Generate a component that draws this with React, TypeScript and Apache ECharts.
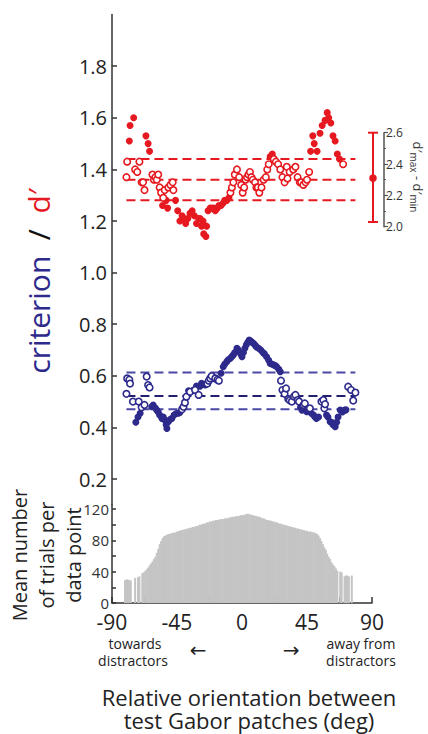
import React, { useEffect, useRef } from "react";
import * as echarts from "echarts";

// ---------- data ----------
// d' (red) : orientation (deg), value, filled (1) / open (0)
const dPrimeDeg = [-80, -79.5, -78, -77.5, -75, -74, -72.5, -71, -69.5, -68.5, -67.5, -66.5, -65, -64, -62, -61, -60, -59, -58, -57, -56, -55, -54.5, -53.5, -52.5, -51.5, -51, -49.5, -48, -47.5, -46, -44.5, -43, -41.5, -40, -39, -37.5, -36, -34.5, -33, -31.5, -30, -29, -28, -27, -26.5, -25, -24.5, -23.5, -22, -21, -19.5, -18.5, -17, -16, -14.5, -13, -12, -10.5, -9, -8, -7, -6, -5, -3.5, -2, -0.5, 0.5, 1.5, 2.5, 3.5, 4.5, 5.5, 6.5, 7.5, 9, 10, 11, 12, 13.5, 15, 16.5, 17.5, 18.5, 19.5, 21, 22, 23.5, 25, 26.5, 28, 29.5, 31, 31.5, 33, 35.5, 37, 38.5, 40, 41, 42.5, 44, 45, 46.5, 47.5, 49, 50, 52, 54, 55.5, 57.5, 59, 60, 61.5, 63, 64.5, 66, 67.5, 70];
const dPrimeVal = [1.37, 1.43, 1.51, 1.57, 1.60, 1.40, 1.39, 1.43, 1.35, 1.35, 1.32, 1.53, 1.50, 1.47, 1.38, 1.36, 1.37, 1.36, 1.38, 1.33, 1.31, 1.26, 1.29, 1.32, 1.28, 1.25, 1.33, 1.34, 1.35, 1.32, 1.28, 1.24, 1.20, 1.22, 1.21, 1.19, 1.21, 1.23, 1.24, 1.22, 1.19, 1.21, 1.21, 1.18, 1.20, 1.15, 1.14, 1.18, 1.24, 1.25, 1.25, 1.25, 1.24, 1.25, 1.26, 1.26, 1.27, 1.28, 1.28, 1.29, 1.31, 1.33, 1.35, 1.38, 1.40, 1.37, 1.34, 1.31, 1.33, 1.36, 1.37, 1.38, 1.39, 1.37, 1.36, 1.35, 1.33, 1.33, 1.31, 1.33, 1.36, 1.37, 1.40, 1.42, 1.45, 1.46, 1.44, 1.43, 1.42, 1.40, 1.37, 1.35, 1.41, 1.365, 1.39, 1.40, 1.41, 1.37, 1.35, 1.35, 1.34, 1.35, 1.36, 1.39, 1.47, 1.53, 1.50, 1.47, 1.54, 1.57, 1.59, 1.62, 1.60, 1.58, 1.53, 1.51, 1.46, 1.44, 1.42];
const dPrimeFilled = [0, 0, 1, 1, 1, 0, 0, 0, 0, 0, 0, 1, 1, 1, 0, 0, 0, 0, 0, 0, 0, 1, 0, 0, 1, 1, 0, 0, 0, 0, 1, 1, 1, 1, 1, 1, 1, 1, 1, 1, 1, 1, 1, 1, 1, 1, 1, 1, 1, 1, 1, 1, 1, 1, 1, 1, 1, 1, 1, 1, 0, 0, 0, 0, 0, 0, 0, 0, 0, 0, 0, 0, 0, 0, 0, 0, 0, 0, 0, 0, 0, 0, 0, 0, 1, 1, 0, 0, 0, 0, 0, 0, 0, 0, 0, 0, 0, 0, 0, 0, 0, 0, 0, 0, 1, 1, 1, 1, 1, 1, 1, 1, 1, 1, 1, 1, 1, 1, 0];

// criterion (blue)
const critDeg = [-80, -79.5, -78, -77.5, -75.5, -73.5, -72, -71.5, -70.5, -69.5, -67.5, -66, -65, -64, -62.5, -61.5, -60, -59, -58, -57, -55.5, -54.5, -53.5, -52.5, -52, -51, -50, -48.5, -47, -45.5, -44, -43, -41.5, -40.5, -39.5, -38.5, -37, -36, -35, -33.5, -32.5, -31.5, -30, -29, -28, -26.5, -25.5, -24, -23, -22, -21, -19.5, -18.5, -17, -16, -14.5, -13, -12, -10.5, -9.5, -8, -7, -6, -5, -3.5, -2.5, -1, 0, 1, 2, 3, 4, 5, 6, 7, 8, 9, 10, 11.5, 13, 14.5, 15.5, 17, 18.5, 19.5, 21, 22, 23, 24, 25.5, 26.5, 27, 28, 29.5, 30.5, 32, 33, 34.5, 36, 37, 38.5, 39.5, 40.5, 41.5, 42.5, 43.5, 44.8, 46, 47, 48, 49.5, 50.5, 51.5, 53, 55, 56.3, 57, 57.5, 58.5, 59.5, 61, 62, 63, 64.5, 65.5, 66.5, 68, 69.5, 71, 72, 73.5, 75.5, 77, 78.5];
const critVal = [0.53, 0.59, 0.585, 0.57, 0.50, 0.42, 0.44, 0.50, 0.455, 0.478, 0.487, 0.597, 0.564, 0.555, 0.48, 0.487, 0.475, 0.467, 0.46, 0.448, 0.435, 0.44, 0.429, 0.41, 0.396, 0.422, 0.43, 0.435, 0.448, 0.454, 0.455, 0.458, 0.47, 0.48, 0.496, 0.519, 0.542, 0.538, 0.54, 0.545, 0.545, 0.56, 0.526, 0.56, 0.571, 0.566, 0.564, 0.57, 0.581, 0.59, 0.599, 0.59, 0.59, 0.585, 0.581, 0.61, 0.635, 0.645, 0.655, 0.662, 0.668, 0.675, 0.681, 0.69, 0.707, 0.70, 0.685, 0.674, 0.69, 0.707, 0.72, 0.73, 0.739, 0.735, 0.73, 0.725, 0.719, 0.712, 0.707, 0.70, 0.69, 0.685, 0.674, 0.66, 0.648, 0.645, 0.642, 0.64, 0.635, 0.625, 0.616, 0.581, 0.545, 0.53, 0.551, 0.51, 0.505, 0.50, 0.52, 0.526, 0.506, 0.50, 0.478, 0.467, 0.487, 0.493, 0.461, 0.47, 0.474, 0.455, 0.448, 0.44, 0.435, 0.44, 0.50, 0.506, 0.474, 0.49, 0.448, 0.44, 0.422, 0.42, 0.41, 0.403, 0.42, 0.44, 0.467, 0.46, 0.467, 0.468, 0.558, 0.545, 0.504, 0.535];
const critFilled = [0, 0, 0, 0, 0, 1, 1, 0, 1, 0, 0, 0, 0, 0, 1, 1, 1, 1, 1, 1, 1, 1, 1, 1, 1, 1, 1, 1, 1, 1, 1, 1, 0, 0, 0, 0, 1, 0, 1, 1, 0, 1, 0, 1, 1, 1, 1, 0, 0, 0, 0, 1, 0, 0, 0, 1, 1, 1, 1, 1, 1, 1, 1, 1, 1, 1, 1, 1, 1, 1, 1, 1, 1, 1, 1, 1, 1, 1, 1, 1, 1, 1, 1, 1, 1, 1, 1, 1, 1, 1, 1, 0, 0, 0, 0, 0, 0, 0, 0, 0, 0, 0, 1, 1, 0, 0, 1, 1, 0, 1, 1, 1, 1, 1, 0, 0, 0, 0, 1, 1, 1, 1, 1, 1, 1, 1, 1, 1, 1, 1, 0, 0, 0, 0];

// reference (dashed) levels
const dPrimeLevels = [1.44, 1.36, 1.28];
const critLevels = [0.613, 0.522, 0.47];
const levelSpan = [-80, 78.5];

// d'max - d'min error bar: [x, low, mean, high]
const rangeBar = [[0.5, 2.03, 2.31, 2.6]];

// histogram: mean number of trials per data point, 1-deg bins
const histDeg = [-82, -81, -80, -79, -78, -77, -76, -75, -74, -73, -72, -71, -70, -69, -68, -67, -66, -65, -64, -63, -62, -61, -60, -59, -58, -57, -56, -55, -54, -53, -52, -51, -50, -49, -48, -47, -46, -45, -44, -43, -42, -41, -40, -39, -38, -37, -36, -35, -34, -33, -32, -31, -30, -29, -28, -27, -26, -25, -24, -23, -22, -21, -20, -19, -18, -17, -16, -15, -14, -13, -12, -11, -10, -9, -8, -7, -6, -5, -4, -3, -2, -1, 0, 1, 2, 3, 4, 5, 6, 7, 8, 9, 10, 11, 12, 13, 14, 15, 16, 17, 18, 19, 20, 21, 22, 23, 24, 25, 26, 27, 28, 29, 30, 31, 32, 33, 34, 35, 36, 37, 38, 39, 40, 41, 42, 43, 44, 45, 46, 47, 48, 49, 50, 51, 52, 53, 54, 55, 56, 57, 58, 59, 60, 61, 62, 63, 64, 65, 66, 67, 68, 69, 70, 71, 72, 73, 74, 75, 76, 77];
const histCount = [0, 29, 30, 30, 29, 29, 0, 0, 32, 0, 33, 34, 0, 38, 39, 41, 43, 45, 48, 50, 53, 56, 59, 64, 69, 75, 79, 83, 85, 86, 87, 88, 88, 89, 89, 90, 90, 91, 92, 92, 93, 93, 94, 94, 95, 95, 96, 96, 97, 97, 98, 98, 99, 100, 100, 101, 101, 102, 103, 103, 104, 104, 105, 105, 106, 106, 106, 107, 107, 107, 108, 108, 108, 109, 109, 110, 110, 110, 111, 111, 111, 112, 112, 112, 113, 113, 114, 113, 113, 112, 112, 111, 111, 110, 110, 109, 108, 108, 107, 106, 106, 105, 105, 104, 104, 103, 103, 102, 101, 101, 100, 100, 99, 99, 98, 98, 97, 97, 96, 96, 95, 95, 94, 94, 93, 93, 92, 92, 91, 91, 91, 90, 90, 89, 88, 86, 83, 79, 75, 71, 68, 63, 59, 56, 52, 49, 47, 44, 41, 0, 40, 39, 0, 34, 35, 35, 34, 0, 35];

const yTicksMain = [0.2, 0.4, 0.6, 0.8, 1.0, 1.2, 1.4, 1.6, 1.8];
const xTickLabels = [-90, -45, 0, 45, 90];
const histLabelTicks = [0, 40, 80, 120];
const histTicks = [0, 20, 40, 60, 80, 100, 120];

// ---------- style ----------
const RED = "#e5191f";
const BLUE = "#2d2a8c";
const BLUE_LIGHT = "#4b48a6";
const BLUE_DARK = "#221f6c";
const AXIS = "#333333";
const TXT = "#222222";
const FONT = "Open Sans";

function pts(deg: number[], val: number[], flag: number[], want: number) {
  const out: number[][] = [];
  deg.forEach((d, i) => {
    if (flag[i] === want) out.push([d, val[i]]);
  });
  return out;
}

function levelLine(v: number, color: string) {
  return {
    type: "line",
    xAxisIndex: 0,
    yAxisIndex: 0,
    data: [[levelSpan[0], v], [levelSpan[1], v]],
    symbol: "none",
    silent: true,
    z: 1,
    lineStyle: { color, width: 2, type: [9, 5] },
  };
}

function label(text: string, x: number, y: number, size: number, family = FONT) {
  return {
    type: "text",
    x,
    y,
    style: { text, align: "center", verticalAlign: "middle", fontSize: size, fill: TXT, fontFamily: family },
  };
}

export default function App() {
  const ref = useRef<HTMLDivElement>(null);
  useEffect(() => {
    if (!ref.current) return;
    const chart = echarts.init(ref.current, undefined, { renderer: "svg" });
    const option: any = {
      animation: false,
      backgroundColor: "#ffffff",
      textStyle: { fontFamily: FONT },
      grid: [
        { left: 112, top: 14.6, width: 260, height: 490.2 },
        { left: 112, top: 505, width: 260, height: 98 },
        { left: 362, top: 132.7, width: 22, height: 94 },
      ],
      xAxis: [
        { gridIndex: 0, type: "value", min: -90, max: 90, show: false },
        {
          gridIndex: 1,
          type: "value",
          min: -90,
          max: 90,
          interval: 22.5,
          axisLine: { onZero: false, lineStyle: { color: AXIS, width: 1.5 } },
          axisTick: { inside: true, length: 6, lineStyle: { color: AXIS, width: 1.5 } },
          axisLabel: {
            customValues: xTickLabels,
            fontSize: 21,
            color: TXT,
            margin: 8,
            fontFamily: FONT,
          },
          splitLine: { show: false },
        },
        { gridIndex: 2, type: "value", min: 0, max: 1, show: false },
      ],
      yAxis: [
        {
          gridIndex: 0,
          type: "value",
          min: 0.1,
          max: 2.0,
          position: "left",
          axisLine: { show: true, onZero: false, lineStyle: { color: AXIS, width: 1.5 } },
          axisTick: {
            show: true,
            inside: true,
            length: 5,
            customValues: yTicksMain,
            lineStyle: { color: AXIS, width: 1.5 },
          },
          axisLabel: {
            customValues: yTicksMain,
            formatter: (v: number) => v.toFixed(1),
            fontSize: 20,
            color: TXT,
            margin: 5,
            fontFamily: FONT,
          },
          splitLine: { show: false },
        },
        {
          gridIndex: 1,
          type: "value",
          min: 0,
          max: 125,
          position: "left",
          axisLine: { show: true, onZero: false, lineStyle: { color: AXIS, width: 1.5 } },
          axisTick: {
            show: true,
            inside: true,
            length: 4,
            customValues: histTicks,
            lineStyle: { color: AXIS, width: 1.5 },
          },
          axisLabel: {
            customValues: histLabelTicks,
            fontSize: 15,
            color: "#333",
            margin: 3,
            fontFamily: FONT,
          },
          splitLine: { show: false },
        },
        {
          gridIndex: 2,
          type: "value",
          position: "right",
          min: 2.0,
          max: 2.6,
          interval: 0.2,
          axisLine: { show: true, onZero: false, lineStyle: { color: "#555", width: 1.5 } },
          axisTick: { show: true, inside: false, length: 4, lineStyle: { color: "#555", width: 1.2 } },
          minorTick: { show: true, splitNumber: 2, length: 2, lineStyle: { color: "#555" } },
          axisLabel: {
            formatter: (v: number) => v.toFixed(1),
            fontSize: 12,
            color: "#333",
            margin: 2,
            fontFamily: FONT,
          },
          splitLine: { show: false },
        },
      ],
      series: [
        levelLine(dPrimeLevels[0], RED),
        levelLine(dPrimeLevels[1], RED),
        levelLine(dPrimeLevels[2], RED),
        levelLine(critLevels[0], BLUE_LIGHT),
        levelLine(critLevels[1], BLUE_DARK),
        levelLine(critLevels[2], BLUE_LIGHT),
        {
          type: "scatter",
          xAxisIndex: 0,
          yAxisIndex: 0,
          symbol: "circle",
          symbolSize: 7,
          z: 3,
          data: pts(dPrimeDeg, dPrimeVal, dPrimeFilled, 1),
          itemStyle: { color: RED, opacity: 1 },
        },
        {
          type: "scatter",
          xAxisIndex: 0,
          yAxisIndex: 0,
          symbol: "circle",
          symbolSize: 6.5,
          z: 4,
          data: pts(dPrimeDeg, dPrimeVal, dPrimeFilled, 0),
          itemStyle: { color: "#ffffff", borderColor: RED, borderWidth: 1.6, opacity: 1 },
        },
        {
          type: "scatter",
          xAxisIndex: 0,
          yAxisIndex: 0,
          symbol: "circle",
          symbolSize: 7,
          z: 3,
          data: pts(critDeg, critVal, critFilled, 1),
          itemStyle: { color: BLUE, opacity: 1 },
        },
        {
          type: "scatter",
          xAxisIndex: 0,
          yAxisIndex: 0,
          symbol: "circle",
          symbolSize: 6.5,
          z: 4,
          data: pts(critDeg, critVal, critFilled, 0),
          itemStyle: { color: "#ffffff", borderColor: BLUE, borderWidth: 1.6, opacity: 1 },
        },
        {
          type: "bar",
          xAxisIndex: 1,
          yAxisIndex: 1,
          barWidth: 2,
          data: histDeg.map((d, i) => [d, histCount[i]]),
          itemStyle: { color: "#c4c4c4" },
        },
        {
          type: "custom",
          xAxisIndex: 2,
          yAxisIndex: 2,
          data: rangeBar,
          renderItem: (_p: any, api: any) => {
            const x = api.value(0);
            const lo = api.coord([x, api.value(1)]);
            const mid = api.coord([x, api.value(2)]);
            const hi = api.coord([x, api.value(3)]);
            const st = { stroke: RED, lineWidth: 2 };
            return {
              type: "group",
              children: [
                { type: "line", shape: { x1: lo[0], y1: lo[1], x2: hi[0], y2: hi[1] }, style: st },
                { type: "line", shape: { x1: lo[0] - 5, y1: lo[1], x2: lo[0] + 5, y2: lo[1] }, style: st },
                { type: "line", shape: { x1: hi[0] - 5, y1: hi[1], x2: hi[0] + 5, y2: hi[1] }, style: st },
                { type: "circle", shape: { cx: mid[0], cy: mid[1], r: 3.8 }, style: { fill: RED } },
              ],
            };
          },
        },
      ],
      graphic: [
        {
          type: "text",
          x: 38,
          y: 281,
          rotation: Math.PI / 2,
          style: {
            text: "{b|criterion}{k|  /  }{r|d′}",
            align: "center",
            verticalAlign: "middle",
            rich: {
              b: { fontSize: 30, fill: BLUE, fontFamily: FONT },
              k: { fontSize: 30, fill: "#111", fontFamily: FONT },
              r: { fontSize: 30, fill: RED, fontFamily: FONT },
            },
          },
        },
        {
          type: "text",
          x: 418,
          y: 177,
          rotation: -Math.PI / 2,
          style: {
            text: "{d|d′}{s|max}{d| - d′}{s|min}",
            align: "center",
            verticalAlign: "middle",
            rich: {
              d: { fontSize: 13, fill: "#333", fontFamily: FONT },
              s: { fontSize: 10, fill: "#333", fontFamily: FONT, padding: [9, 0, 0, 0] },
            },
          },
        },
        {
          type: "text",
          x: 46,
          y: 555,
          rotation: Math.PI / 2,
          style: {
            text: "Mean number\nof trials per\ndata point",
            align: "center",
            verticalAlign: "middle",
            fontSize: 20,
            lineHeight: 27,
            fill: TXT,
            fontFamily: FONT,
          },
        },
        label("towards", 135, 643, 14),
        label("distractors", 133, 660, 14),
        label("away from", 361, 643, 14),
        label("distractors", 361, 660, 14),
        label("←", 198, 650, 20, "DejaVu Sans"),
        label("→", 291, 650, 20, "DejaVu Sans"),
        label("Relative orientation between", 249, 697, 22),
        label("test Gabor patches (deg)", 249, 720, 22),
      ],
    };
    chart.setOption(option);
    return () => chart.dispose();
  }, []);
  return (
    <div
      ref={ref}
      style={{ position: "fixed", left: 0, top: 0, width: 428, height: 734, background: "#fff" }}
    />
  );
}
